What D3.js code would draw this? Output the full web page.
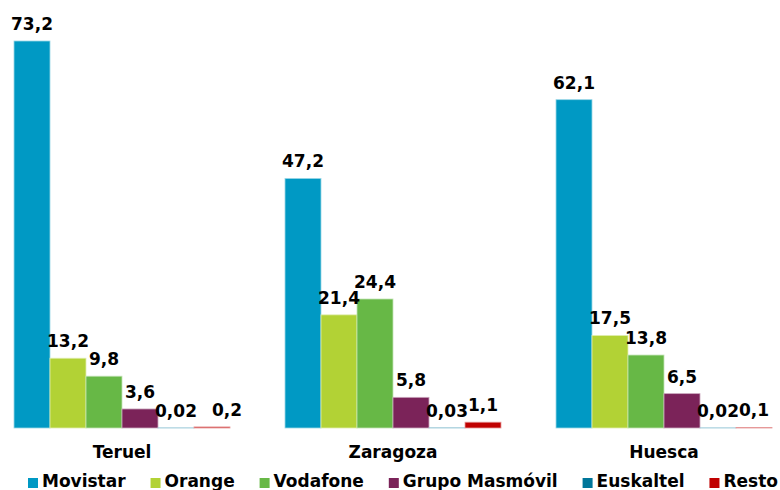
<!DOCTYPE html>
<html>
<head>
<meta charset="utf-8">
<script src="https://cdn.jsdelivr.net/npm/d3@7"></script>
<style>
  html, body { margin: 0; padding: 0; background: #fff; }
  svg { display: block; }
  text { font-family: "DejaVu Sans", Verdana, sans-serif; font-weight: bold; fill: #000; }
</style>
</head>
<body>
<svg id="chart" width="780" height="490"></svg>
<script>
const categories = ["Teruel", "Zaragoza", "Huesca"];
const seriesNames = ["Movistar", "Orange", "Vodafone", "Grupo Masmóvil", "Euskaltel", "Resto"];
const seriesColors = ["#0099c4", "#b2d235", "#67b846", "#7b2359", "#00769a", "#c00000"];
const movistar = [73.2, 47.2, 62.1];
const orange = [13.2, 21.4, 17.5];
const vodafone = [9.8, 24.4, 13.8];
const masmovil = [3.6, 5.8, 6.5];
const euskaltel = [0.02, 0.03, 0.02];
const resto = [0.2, 1.1, 0.1];
const valueLabels = [
  ["73,2", "47,2", "62,1"],
  ["13,2", "21,4", "17,5"],
  ["9,8", "24,4", "13,8"],
  ["3,6", "5,8", "6,5"],
  ["0,02", "0,03", "0,02"],
  ["0,2", "1,1", "0,1"]
];
const seriesValues = [movistar, orange, vodafone, masmovil, euskaltel, resto];

const svg = d3.select("#chart");
const fontSize = 17;

const x0 = d3.scaleBand()
  .domain(categories)
  .range([-13.5, 799.5])
  .paddingInner(55 / 271)
  .paddingOuter(55 / 271 / 2);

const x1 = d3.scaleBand()
  .domain(seriesNames)
  .range([0, x0.bandwidth()])
  .padding(0);

const y = d3.scaleLinear()
  .domain([0, 80])
  .range([428, 428 - 80 * (387 / 73.2)]);

const data = [];
categories.forEach((c, ci) => {
  seriesNames.forEach((s, si) => {
    data.push({ cat: c, series: s, si: si, value: seriesValues[si][ci], label: valueLabels[si][ci] });
  });
});

// manually nudged label in the original (Teruel / Resto)
function labelShift(d) {
  return (d.cat === "Teruel" && d.series === "Resto") ? 15 : 0;
}

const g = svg.append("g");

g.selectAll("rect.bar")
  .data(data)
  .enter().append("rect")
  .attr("class", "bar")
  .attr("x", d => x0(d.cat) + x1(d.series))
  .attr("y", d => y(d.value))
  .attr("width", x1.bandwidth())
  .attr("height", d => y(0) - y(d.value))
  .attr("fill", d => seriesColors[d.si])
  .attr("stroke", d => d3.interpolateRgb(seriesColors[d.si], "#ffffff")(0.6))
  .attr("stroke-width", 0.8);

g.selectAll("text.val")
  .data(data)
  .enter().append("text")
  .attr("class", "val")
  .attr("x", d => x0(d.cat) + x1(d.series) + x1.bandwidth() / 2 + labelShift(d))
  .attr("y", d => y(d.value) - 11)
  .attr("text-anchor", "middle")
  .style("font-size", fontSize + "px")
  .text(d => d.label);

// category axis labels
const xAxis = d3.axisBottom(x0).tickSize(0).tickPadding(0);
const ax = svg.append("g").attr("transform", "translate(0,428)").call(xAxis);
ax.select(".domain").remove();
ax.selectAll("text")
  .attr("y", 30)
  .attr("dy", null)
  .style("font-size", fontSize + "px")
  .style("font-family", "'DejaVu Sans', Verdana, sans-serif")
  .style("font-weight", "bold")
  .attr("fill", "#000");

// legend
const legend = svg.append("g").attr("class", "legend");
const items = seriesNames.map((s, i) => {
  const item = legend.append("g");
  const r = item.append("rect")
    .attr("y", 478)
    .attr("width", 10).attr("height", 10)
    .attr("fill", seriesColors[i]);
  const t = item.append("text")
    .attr("y", 487)
    .style("font-size", fontSize + "px")
    .text(s);
  return { r, t, w: t.node().getComputedTextLength() };
});
const legStart = 28, legEnd = 778;
const used = d3.sum(items, d => 14 + d.w);
const gap = (legEnd - legStart - used) / (items.length - 1);
let lx = legStart;
items.forEach(d => {
  d.r.attr("x", lx);
  d.t.attr("x", lx + 14);
  lx += 14 + d.w + gap;
});
</script>
</body>
</html>
